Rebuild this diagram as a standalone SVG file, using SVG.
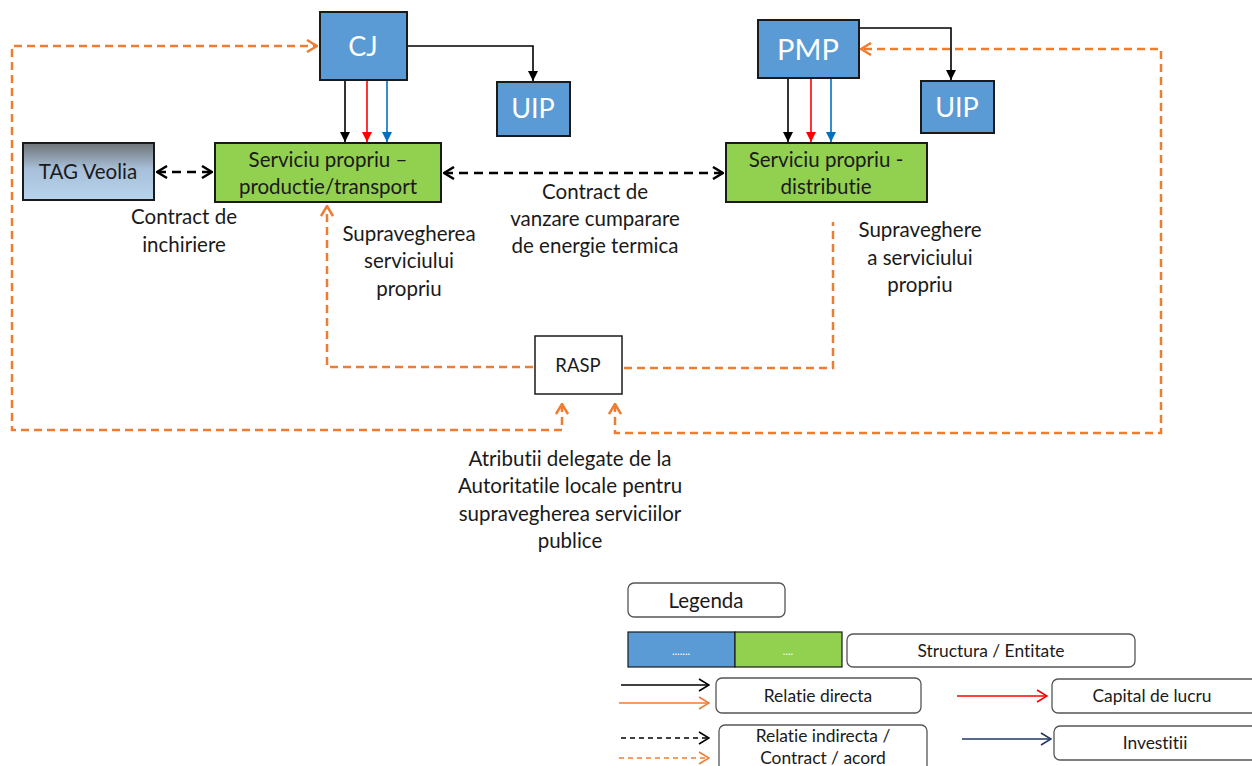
<svg xmlns="http://www.w3.org/2000/svg" width="1252" height="766" viewBox="0 0 1252 766">
  <style>
    .t { font-family: Lato, "Open Sans", "Liberation Sans", sans-serif; fill: #1a1a1a; text-anchor: middle; font-variant-ligatures: none; }
    .w { fill: #ffffff; }
    .blue { fill: #5B9BD5; stroke: #1a1a1a; stroke-width: 2; }
    .green { fill: #92D050; stroke: #1a1a1a; stroke-width: 2; }
    .leg { fill: #ffffff; stroke: #555555; stroke-width: 1.3; }
    .or { fill: none; stroke: #ED7D31; stroke-width: 2.5; stroke-dasharray: 8 5; }
    .bd { fill: none; stroke: #000000; stroke-width: 2.6; stroke-dasharray: 9 6; }
    .sl { fill: none; stroke-width: 1.6; }
  </style>
  <defs>
    <linearGradient id="tagGrad" x1="0" y1="0" x2="0" y2="1">
      <stop offset="0" stop-color="#6f7377"/>
      <stop offset="0.45" stop-color="#a7bfd8"/>
      <stop offset="1" stop-color="#b9d4ee"/>
    </linearGradient>
    <marker id="fBlack" viewBox="0 0 10 10" refX="10" refY="5" markerWidth="10" markerHeight="10" markerUnits="userSpaceOnUse" orient="auto">
      <path d="M0,0 L10,5 L0,10 z" fill="#000000"/>
    </marker>
    <marker id="fRed" viewBox="0 0 10 10" refX="10" refY="5" markerWidth="10" markerHeight="10" markerUnits="userSpaceOnUse" orient="auto">
      <path d="M0,0 L10,5 L0,10 z" fill="#FF0000"/>
    </marker>
    <marker id="fBlue" viewBox="0 0 10 10" refX="10" refY="5" markerWidth="10" markerHeight="10" markerUnits="userSpaceOnUse" orient="auto">
      <path d="M0,0 L10,5 L0,10 z" fill="#0070C0"/>
    </marker>
    <marker id="oOr" viewBox="0 0 12 14" refX="11" refY="7" markerWidth="12" markerHeight="14" markerUnits="userSpaceOnUse" orient="auto-start-reverse">
      <path d="M1,1 L11,7 L1,13" fill="none" stroke="#ED7D31" stroke-width="2.5"/>
    </marker>
    <marker id="oBk" viewBox="0 0 12 14" refX="11" refY="7" markerWidth="12" markerHeight="14" markerUnits="userSpaceOnUse" orient="auto-start-reverse">
      <path d="M1,1 L11,7 L1,13" fill="none" stroke="#000000" stroke-width="2.5"/>
    </marker>
    <marker id="oBkThin" viewBox="0 0 12 14" refX="11" refY="7" markerWidth="12" markerHeight="14" markerUnits="userSpaceOnUse" orient="auto">
      <path d="M1,1 L11,7 L1,13" fill="none" stroke="#000000" stroke-width="1.6"/>
    </marker>
    <marker id="oOrThin" viewBox="0 0 12 14" refX="11" refY="7" markerWidth="12" markerHeight="14" markerUnits="userSpaceOnUse" orient="auto">
      <path d="M1,1 L11,7 L1,13" fill="none" stroke="#ED7D31" stroke-width="1.6"/>
    </marker>
    <marker id="oRed" viewBox="0 0 12 14" refX="11" refY="7" markerWidth="12" markerHeight="14" markerUnits="userSpaceOnUse" orient="auto">
      <path d="M1,1 L11,7 L1,13" fill="none" stroke="#FF0000" stroke-width="1.6"/>
    </marker>
    <marker id="oNavy" viewBox="0 0 12 14" refX="11" refY="7" markerWidth="12" markerHeight="14" markerUnits="userSpaceOnUse" orient="auto">
      <path d="M1,1 L11,7 L1,13" fill="none" stroke="#203864" stroke-width="1.6"/>
    </marker>
  </defs>

  <rect width="1252" height="766" fill="#ffffff"/>

  <!-- connectors -->
  <g id="connectors">
    <!-- CJ to UIP -->
    <path class="sl" stroke="#000" d="M407,46 L533,46 L533,81" marker-end="url(#fBlack)"/>
    <!-- PMP to UIP -->
    <path class="sl" stroke="#000" d="M859,28 L951,28 L951,80" marker-end="url(#fBlack)"/>
    <!-- CJ down to productie/transport -->
    <path class="sl" stroke="#000" d="M345,80 L345,142" marker-end="url(#fBlack)"/>
    <path class="sl" stroke="#FF0000" d="M367,80 L367,142" marker-end="url(#fRed)"/>
    <path class="sl" stroke="#0070C0" d="M387,80 L387,142" marker-end="url(#fBlue)"/>
    <!-- PMP down to distributie -->
    <path class="sl" stroke="#000" d="M788,78 L788,142" marker-end="url(#fBlack)"/>
    <path class="sl" stroke="#FF0000" d="M811,78 L811,142" marker-end="url(#fRed)"/>
    <path class="sl" stroke="#0070C0" d="M831,78 L831,142" marker-end="url(#fBlue)"/>
    <!-- contracts -->
    <path class="bd" d="M157,172 L212,172" marker-start="url(#oBk)" marker-end="url(#oBk)"/>
    <path class="bd" d="M444,173 L723,173" marker-start="url(#oBk)" marker-end="url(#oBk)"/>
    <!-- delegated attributions loops -->
    <path class="or" d="M562,404 L562,430 L12,430 L12,46 L317,46" marker-start="url(#oOr)" marker-end="url(#oOr)"/>
    <path class="or" d="M615,404 L615,433 L1161,433 L1161,49 L861,49" marker-start="url(#oOr)" marker-end="url(#oOr)"/>
    <!-- RASP supervision -->
    <path class="or" d="M533,367 L327,367 L327,206" marker-end="url(#oOr)"/>
    <path class="or" d="M624,368 L833,368 L833,222"/>
  </g>

  <!-- nodes -->
  <g id="cj">
    <rect class="blue" x="320" y="12" width="87" height="68"/>
    <text class="t w" x="363" y="56" font-size="27">CJ</text>
  </g>
  <g id="uip-cj">
    <rect class="blue" x="497" y="82" width="73" height="54"/>
    <text class="t w" x="533" y="118" font-size="27">UIP</text>
  </g>
  <g id="pmp">
    <rect class="blue" x="758" y="20" width="101" height="58"/>
    <text class="t w" x="808" y="60" font-size="29">PMP</text>
  </g>
  <g id="uip-pmp">
    <rect class="blue" x="921" y="81" width="73" height="52"/>
    <text class="t w" x="957" y="117" font-size="27">UIP</text>
  </g>
  <g id="tag-veolia">
    <rect x="23" y="143" width="131" height="57" fill="url(#tagGrad)" stroke="#1a1a1a" stroke-width="2"/>
    <text class="t" x="88" y="179" font-size="20.5">TAG Veolia</text>
  </g>
  <g id="productie-transport">
    <rect class="green" x="215" y="143" width="226" height="59"/>
    <text class="t" x="328" y="167" font-size="20.5">Serviciu propriu –</text>
    <text class="t" x="328" y="194" font-size="20.5">productie/transport</text>
  </g>
  <g id="distributie">
    <rect class="green" x="726" y="143" width="201" height="59"/>
    <text class="t" x="826" y="167" font-size="20.5">Serviciu propriu -</text>
    <text class="t" x="826" y="194" font-size="20.5">distributie</text>
  </g>
  <g id="rasp">
    <rect x="535" y="336" width="87" height="58" fill="#ffffff" stroke="#1a1a1a" stroke-width="1.5"/>
    <text class="t" x="578" y="372" font-size="18.5">RASP</text>
  </g>

  <!-- relation labels -->
  <g id="labels" font-size="20.5">
    <text class="t" x="184" y="224">Contract de</text>
    <text class="t" x="184" y="252">inchiriere</text>
    <text class="t" x="409" y="241">Supravegherea</text>
    <text class="t" x="409" y="268">serviciului</text>
    <text class="t" x="409" y="296">propriu</text>
    <text class="t" x="595" y="199">Contract de</text>
    <text class="t" x="595" y="226">vanzare cumparare</text>
    <text class="t" x="595" y="253">de energie termica</text>
    <text class="t" x="920" y="237">Supraveghere</text>
    <text class="t" x="920" y="265">a serviciului</text>
    <text class="t" x="920" y="292">propriu</text>
    <text class="t" x="570" y="466">Atributii delegate de la</text>
    <text class="t" x="570" y="493">Autoritatile locale pentru</text>
    <text class="t" x="570" y="521">supravegherea serviciilor</text>
    <text class="t" x="570" y="548">publice</text>
  </g>

  <!-- legend -->
  <g id="legend">
    <rect class="leg" x="628" y="583" width="157" height="34" rx="6"/>
    <text class="t" x="706" y="608" font-size="20.5">Legenda</text>
    <rect x="628" y="632" width="107" height="35" fill="#5B9BD5" stroke="#1a1a1a" stroke-width="1.2"/>
    <rect x="735" y="632" width="107" height="35" fill="#92D050" stroke="#1a1a1a" stroke-width="1.2"/>
    <text class="t w" x="681" y="655" font-size="11">.......</text>
    <text class="t w" x="788" y="655" font-size="11">....</text>
    <rect class="leg" x="847" y="634" width="288" height="33" rx="6"/>
    <text class="t" x="991" y="657" font-size="17.4">Structura / Entitate</text>

    <path class="sl" stroke="#000" d="M621,685 L709,685" marker-end="url(#oBkThin)"/>
    <path class="sl" stroke="#ED7D31" d="M619,703 L709,703" marker-end="url(#oOrThin)"/>
    <rect class="leg" x="716" y="678" width="205" height="35" rx="6"/>
    <text class="t" x="818" y="702" font-size="17.4">Relatie directa</text>

    <path class="sl" stroke="#FF0000" d="M957,696 L1047,696" marker-end="url(#oRed)"/>
    <rect class="leg" x="1052" y="679" width="210" height="34" rx="6"/>
    <text class="t" x="1152" y="702" font-size="17.4">Capital de lucru</text>

    <path class="sl" stroke="#000" stroke-dasharray="5 4" d="M621,738 L709,738" marker-end="url(#oBkThin)"/>
    <path class="sl" stroke="#ED7D31" stroke-dasharray="5 4" d="M619,758 L709,758" marker-end="url(#oOrThin)"/>
    <rect class="leg" x="719" y="725" width="208" height="50" rx="6"/>
    <text class="t" x="823" y="742" font-size="17.4">Relatie indirecta /</text>
    <text class="t" x="823" y="764" font-size="17.4">Contract / acord</text>

    <path class="sl" stroke="#203864" d="M962,739 L1051,739" marker-end="url(#oNavy)"/>
    <rect class="leg" x="1054" y="726" width="210" height="34" rx="6"/>
    <text class="t" x="1155" y="749" font-size="17.4">Investitii</text>
  </g>
</svg>
